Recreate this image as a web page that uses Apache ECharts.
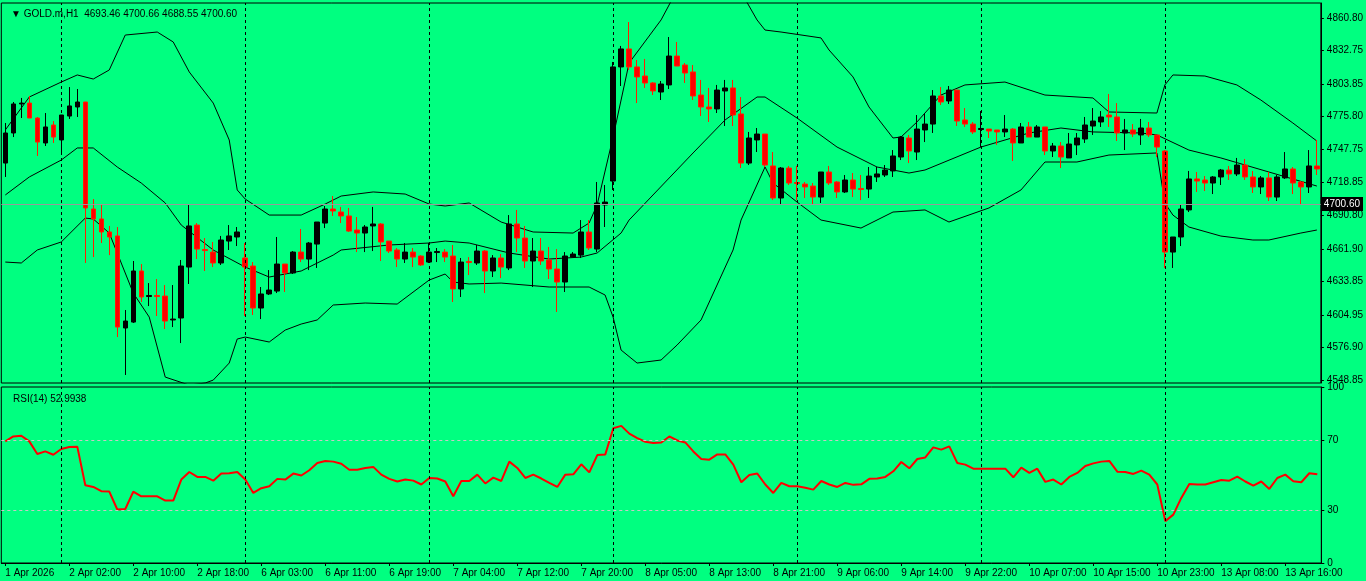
<!DOCTYPE html>
<html><head><meta charset="utf-8">
<script src="https://cdn.jsdelivr.net/npm/echarts@6/dist/echarts.min.js"></script>
<style>html,body{margin:0;padding:0;background:#00ff80;}#c{width:1366px;height:581px;}</style>
</head><body><div id="c"></div>
<script>
// ---- data ----
const sessionDays = [[1,17,23],[2,1,23],[6,1,23],[7,1,23],[8,1,23],[9,1,23],[10,1,23],[13,1,20]];
const open = [4735.8,4761.7,4786.7,4787.5,4774.6,4753.1,4768.6,4755.7,4776.3,4784.1,4788.4,4696.2,4687.6,4676.4,4673.0,4593.7,4598.8,4642.8,4620.8,4621.7,4621.2,4600.6,4602.3,4646.2,4682.4,4661.3,4659.1,4649.7,4668.6,4672.1,4654.0,4647.1,4610.9,4623.0,4625.5,4648.8,4641.1,4659.1,4653.1,4666.0,4684.1,4696.2,4693.6,4690.2,4678.1,4675.5,4681.6,4683.3,4668.6,4660.9,4653.1,4659.1,4655.7,4650.5,4658.7,4659.1,4655.7,4627.3,4651.0,4649.7,4660.0,4642.8,4654.0,4645.4,4683.3,4671.2,4651.4,4660.0,4652.3,4644.5,4633.3,4654.8,4656.5,4676.4,4661.7,4699.7,4720.3,4818.6,4834.1,4818.6,4810.8,4804.8,4797.0,4803.1,4828.0,4820.3,4814.3,4794.4,4784.1,4782.4,4797.9,4800.5,4778.1,4735.8,4755.7,4760.8,4733.3,4705.7,4731.5,4719.0,4717.7,4716.0,4706.5,4728.1,4719.5,4710.9,4721.2,4713.9,4713.4,4723.8,4725.5,4729.0,4741.0,4757.4,4745.3,4764.3,4769.4,4793.6,4789.3,4798.7,4772.9,4769.4,4764.7,4765.1,4764.3,4762.6,4765.1,4753.1,4766.9,4758.2,4766.9,4746.2,4750.5,4740.2,4751.4,4756.5,4767.7,4771.2,4777.2,4775.5,4761.7,4764.3,4760.0,4766.0,4760.0,4746.2,4659.1,4672.1,4695.4,4722.1,4721.2,4718.6,4723.8,4729.8,4726.4,4734.1,4723.8,4715.2,4723.0,4706.5,4723.0,4730.7,4719.5,4715.2,4733.3];
const close = [4761.7,4786.7,4787.5,4774.6,4753.9,4766.9,4758.2,4777.2,4785.0,4788.4,4697.1,4687.6,4676.4,4672.1,4594.5,4599.7,4642.8,4620.4,4621.7,4620.8,4599.7,4601.4,4647.1,4681.6,4661.7,4660.4,4649.7,4669.5,4673.0,4676.4,4646.2,4610.9,4623.0,4626.4,4648.8,4641.1,4659.1,4653.1,4666.9,4685.0,4696.2,4694.5,4690.2,4677.2,4675.5,4680.7,4683.3,4667.8,4660.0,4653.1,4659.1,4654.8,4648.0,4659.1,4659.6,4654.8,4627.3,4650.5,4650.1,4660.0,4642.8,4654.0,4646.2,4683.3,4671.2,4651.4,4660.0,4651.4,4644.5,4633.3,4655.7,4657.4,4676.4,4662.6,4701.4,4702.2,4818.6,4834.1,4818.6,4810.0,4804.8,4797.9,4803.9,4828.0,4819.4,4813.4,4793.6,4784.1,4782.4,4798.7,4800.5,4777.2,4735.8,4757.4,4760.8,4734.1,4705.7,4731.5,4718.6,4718.2,4715.2,4706.5,4728.1,4718.6,4710.9,4721.2,4713.4,4713.0,4724.6,4726.4,4729.8,4741.9,4758.2,4746.2,4765.1,4769.4,4793.6,4788.4,4798.7,4772.0,4769.4,4762.6,4765.6,4763.4,4762.6,4765.1,4753.1,4766.9,4758.2,4766.9,4746.2,4750.5,4741.0,4752.2,4757.4,4768.6,4772.0,4775.5,4775.5,4761.7,4764.3,4760.8,4766.0,4760.0,4749.6,4659.1,4672.1,4696.2,4722.1,4720.3,4718.6,4723.8,4729.8,4726.4,4734.1,4723.8,4715.2,4723.0,4706.5,4723.8,4730.7,4718.6,4715.2,4733.3,4730.7];
const high = [4770.3,4788.4,4791.9,4793.6,4775.5,4778.9,4772.0,4777.2,4801.3,4799.6,4788.4,4704.8,4699.7,4681.6,4680.7,4609.2,4651.4,4648.8,4632.4,4635.9,4630.7,4630.7,4652.3,4700.5,4684.1,4671.2,4667.8,4673.0,4682.4,4680.7,4666.9,4650.5,4629.0,4643.6,4672.1,4648.8,4660.0,4679.0,4667.8,4685.0,4698.8,4707.4,4698.0,4697.1,4689.3,4682.4,4698.0,4684.1,4668.6,4662.6,4666.9,4662.6,4656.5,4666.9,4662.6,4661.7,4665.2,4654.0,4654.8,4665.2,4660.9,4656.5,4657.4,4691.0,4695.4,4681.6,4671.2,4671.2,4663.5,4661.7,4659.1,4659.1,4686.7,4686.7,4719.5,4716.9,4822.9,4836.7,4857.3,4824.6,4825.5,4805.6,4806.5,4844.4,4840.1,4822.0,4820.3,4807.4,4800.5,4803.1,4807.4,4807.4,4792.7,4762.6,4766.0,4760.8,4745.3,4732.4,4733.3,4733.3,4719.5,4718.6,4728.1,4733.3,4720.3,4725.5,4727.2,4725.5,4732.4,4732.4,4734.1,4747.0,4759.1,4760.0,4777.2,4778.1,4798.7,4801.3,4802.2,4798.7,4783.2,4771.2,4780.6,4765.1,4764.3,4777.2,4766.0,4770.3,4771.2,4768.6,4766.9,4753.1,4753.9,4761.7,4761.7,4775.5,4783.2,4780.6,4795.3,4787.5,4773.8,4769.4,4773.8,4771.2,4760.0,4747.0,4672.1,4699.7,4729.0,4728.1,4724.6,4724.6,4730.7,4733.3,4740.2,4739.3,4729.0,4724.6,4728.1,4725.5,4745.3,4732.4,4720.3,4747.0,4755.7];
const low = [4723.8,4758.2,4774.6,4774.6,4741.9,4750.5,4753.1,4742.7,4773.8,4775.5,4649.7,4654.8,4666.9,4656.5,4585.9,4553.2,4598.0,4616.1,4612.6,4604.0,4592.8,4594.5,4580.7,4631.6,4653.1,4642.8,4646.2,4648.0,4660.9,4664.3,4604.0,4604.9,4601.4,4622.1,4623.8,4624.7,4640.2,4650.5,4643.6,4645.4,4679.8,4690.2,4684.1,4676.4,4659.1,4659.1,4660.0,4651.4,4658.3,4646.2,4649.7,4646.2,4647.1,4649.7,4650.5,4650.5,4616.1,4620.4,4639.3,4648.0,4623.8,4637.6,4636.7,4643.6,4659.1,4645.4,4629.0,4648.0,4635.9,4607.5,4624.7,4654.8,4654.0,4660.9,4659.1,4680.7,4712.6,4802.2,4816.0,4787.5,4800.5,4794.4,4790.1,4799.6,4819.4,4804.8,4790.1,4776.3,4771.2,4778.9,4767.7,4767.7,4731.5,4734.1,4745.3,4732.4,4703.9,4700.5,4716.9,4703.9,4705.7,4699.7,4701.4,4716.9,4705.7,4710.0,4706.5,4703.9,4705.7,4719.5,4723.8,4723.8,4738.4,4735.8,4738.4,4753.9,4761.7,4785.8,4786.7,4767.7,4766.9,4760.8,4749.6,4757.4,4751.4,4758.2,4737.6,4753.1,4758.2,4758.2,4742.7,4741.0,4731.5,4740.2,4742.7,4753.1,4760.0,4766.9,4766.9,4754.8,4747.0,4758.2,4751.4,4758.2,4741.0,4645.4,4645.4,4664.3,4693.6,4710.9,4711.7,4709.1,4716.9,4721.2,4724.6,4721.2,4710.0,4709.1,4703.1,4703.1,4722.1,4709.1,4699.7,4710.0,4725.5];
const bandUpper = [[0,4764.3],[3,4792.7],[7,4805.6],[9,4811.7],[11,4808.2],[13,4816.0],[15,4846.1],[19,4848.7],[21,4840.1],[23,4814.3],[26,4787.5],[28,4755.7],[29,4712.6],[30,4704.8],[33,4691.0],[37,4691.0],[40,4700.5],[42,4707.4],[46,4710.9],[50,4709.1],[53,4700.5],[55,4698.8],[58,4701.4],[62,4685.0],[66,4676.4],[71,4675.5],[73,4684.1],[74,4699.7],[76,4758.2],[78,4822.0],[82,4859.1],[84,4884.9],[88,4897.8],[92,4883.2],[94,4859.1],[95,4850.4],[97,4848.7],[102,4843.6],[103,4833.2],[106,4810.0],[108,4784.1],[111,4757.4],[112,4758.2],[114,4771.2],[117,4794.4],[120,4803.1],[125,4805.6],[130,4794.4],[136,4791.9],[138,4779.8],[144,4778.9],[145,4803.1],[146,4811.7],[150,4810.8],[154,4803.1],[157,4790.1],[161,4770.3],[164,4754.8]];
const bandMiddle = [[0,4708.3],[3,4723.8],[7,4738.4],[9,4748.8],[11,4748.8],[14,4732.4],[17,4718.6],[20,4701.4],[22,4682.4],[26,4660.9],[30,4646.2],[33,4637.6],[37,4642.8],[41,4656.5],[42,4660.9],[48,4665.2],[53,4666.9],[55,4668.6],[58,4666.9],[63,4658.3],[68,4653.1],[72,4654.8],[74,4658.3],[77,4675.5],[78,4686.7],[86,4744.5],[90,4772.9],[94,4792.7],[95,4792.7],[99,4774.6],[104,4749.6],[109,4732.4],[113,4727.2],[115,4729.8],[122,4749.6],[128,4761.7],[132,4766.0],[136,4762.6],[142,4761.7],[144,4760.0],[148,4747.0],[152,4740.2],[158,4728.1],[164,4716.0]];
const bandLower = [[0,4650.5],[2,4649.7],[4,4660.9],[7,4667.8],[10,4688.4],[11,4687.6],[13,4675.5],[16,4623.8],[18,4603.1],[20,4551.4],[23,4544.5],[25,4546.3],[26,4548.8],[28,4563.5],[29,4584.2],[30,4585.9],[33,4581.6],[35,4591.9],[37,4597.1],[39,4600.6],[41,4613.5],[45,4615.2],[49,4614.3],[53,4635.0],[55,4640.2],[56,4633.3],[58,4631.6],[62,4632.4],[68,4629.0],[73,4629.0],[75,4622.1],[76,4603.1],[77,4574.7],[79,4563.5],[82,4566.1],[84,4579.0],[87,4600.6],[91,4660.9],[92,4686.7],[95,4732.4],[96,4718.6],[99,4702.2],[102,4686.7],[107,4679.8],[111,4693.6],[115,4695.4],[118,4685.0],[123,4697.1],[127,4712.6],[130,4736.7],[134,4736.7],[138,4742.7],[144,4744.5],[145,4701.4],[146,4691.0],[148,4680.7],[152,4672.9],[156,4669.5],[158,4669.5],[162,4675.5],[164,4678.1]];
const rsi = [69.1,71.9,72.3,69.1,61.9,63.4,61.5,64.8,65.9,66.1,44.2,43.2,40.8,40.6,30.4,30.7,40.6,37.9,37.9,37.9,35.5,35.5,47.4,51.7,48.9,48.9,46.8,50.8,51.0,51.7,47.4,39.8,42.5,43.6,47.8,47.4,50.8,49.7,52.7,56.8,58.0,57.6,56.4,53.0,53.0,54.0,54.6,50.2,47.8,46.3,47.4,46.8,44.6,48.3,48.0,46.3,37.9,46.6,46.6,50.2,45.2,48.5,46.6,57.6,54.0,48.3,50.2,48.0,45.5,43.2,50.2,50.4,56.1,51.5,61.3,61.7,76.6,77.9,73.5,71.0,68.9,68.2,68.5,71.9,69.6,68.5,63.4,59.1,58.7,61.7,61.7,55.9,45.9,50.0,50.8,44.6,39.8,45.5,43.6,43.6,42.8,41.7,46.6,44.6,43.2,45.5,44.4,44.7,47.8,48.0,48.9,52.1,57.4,53.8,59.1,60.0,65.7,64.4,66.3,56.8,55.9,53.6,53.6,53.6,53.6,53.6,48.7,54.2,51.2,53.6,46.1,47.4,44.6,48.9,51.2,55.1,56.6,57.6,58.0,51.9,51.7,50.6,52.5,50.2,44.6,23.8,27.5,37.0,44.9,44.6,44.6,45.9,47.2,46.8,49.1,46.3,44.0,46.3,42.1,48.3,50.2,46.5,45.9,51.0,50.4];
const priceTicks = [4548.85,4576.90,4604.95,4633.85,4661.90,4690.80,4718.85,4747.75,4775.80,4803.85,4832.75,4860.80];
const rsiTicks = [0,30,70,100];
const rsiLevels = [30,70];
const dayStarts = [7,30,53,76,99,122,145];
const lastPrice = 4700.60;
const headerText = '▼ GOLD.m,H1  4693.46 4700.66 4688.55 4700.60';
const rsiText = 'RSI(14) 52.9938';

// ---- build ----
const categories = [];
sessionDays.forEach(([d, h0, h1]) => {
  for (let h = h0; h <= h1; h++) categories.push(categories.length === 0 ? d + ' Apr 2026' : d + ' Apr ' + String(h).padStart(2,'0') + ':00');
});
const candles = open.map((o, i) => [o, close[i], low[i], high[i]]);
const font = 'Liberation Sans';
const dayLines = { silent: true, symbol: 'none', label: {show: false},
  lineStyle: {color: '#000', type: [3,3], width: 1}, data: dayStarts.map(v => ({xAxis: v})) };
const every8 = (i) => i % 8 === 0;

const chart = echarts.init(document.getElementById('c'));
chart.setOption({
  backgroundColor: '#00ff80',
  animation: false,
  textStyle: {fontFamily: font},
  title: [
    {text: headerText, left: 6, top: 4, textStyle: {fontSize: 10, fontWeight: 'normal', color: '#000', fontFamily: font}},
    {text: rsiText, left: 8, top: 389, textStyle: {fontSize: 10, fontWeight: 'normal', color: '#000', fontFamily: font}}
  ],
  grid: [
    {left: 1.3, width: 1320, top: 3, height: 380, show: true, borderColor: '#000', borderWidth: 1},
    {left: 1.3, width: 1320, top: 387, height: 176, show: true, borderColor: '#000', borderWidth: 1}
  ],
  xAxis: [
    {type: 'category', gridIndex: 0, data: categories, boundaryGap: true,
     axisLine: {show: false}, axisTick: {show: false}, axisLabel: {show: false}, splitLine: {show: false}},
    {type: 'category', gridIndex: 1, data: categories, boundaryGap: true,
     axisLine: {show: true, lineStyle: {color: '#000'}}, axisTick: {show: true, interval: every8, length: 3, alignWithLabel: true, lineStyle: {color: '#000'}},
     axisLabel: {interval: every8, align: 'left', color: '#000', fontSize: 10, margin: 5, fontFamily: font, hideOverlap: false}, splitLine: {show: false}}
  ],
  yAxis: [
    {type: 'value', gridIndex: 0, position: 'right', min: 4546.3, max: 4873.7, scale: true,
     axisLine: {show: true, lineStyle: {color: '#000'}}, axisTick: {show: true, length: 3, customValues: priceTicks, lineStyle: {color: '#000'}},
     axisLabel: {customValues: priceTicks, color: '#000', fontSize: 10, margin: 6, fontFamily: font, formatter: v => v.toFixed(2)},
     splitLine: {show: false}},
    {type: 'value', gridIndex: 1, position: 'right', min: 0, max: 100,
     axisLine: {show: true, lineStyle: {color: '#000'}}, axisTick: {show: true, length: 3, customValues: rsiTicks, lineStyle: {color: '#000'}},
     axisLabel: {customValues: rsiTicks, color: '#000', fontSize: 10, margin: 6, fontFamily: font},
     splitLine: {show: false}}
  ],
  series: [
    {type: 'line', xAxisIndex: 0, yAxisIndex: 0, data: bandUpper, symbol: 'none', lineStyle: {color: '#000', width: 1}, silent: true, markLine: dayLines, z: 1},
    {type: 'line', xAxisIndex: 0, yAxisIndex: 0, data: bandMiddle, symbol: 'none', lineStyle: {color: '#000', width: 1}, silent: true, z: 1},
    {type: 'line', xAxisIndex: 0, yAxisIndex: 0, data: bandLower, symbol: 'none', lineStyle: {color: '#000', width: 1}, silent: true, z: 1},
    {type: 'candlestick', xAxisIndex: 0, yAxisIndex: 0, data: candles, barWidth: 5, z: 3,
     itemStyle: {color: '#000', color0: '#ff0000', borderColor: '#000', borderColor0: '#ff2000', borderWidth: 1},
     markLine: {silent: true, symbol: 'none', data: [{yAxis: lastPrice}],
       lineStyle: {color: '#9a9a9a', type: 'solid', width: 1},
       label: {show: true, position: 'end', formatter: lastPrice.toFixed(2), color: '#fff', backgroundColor: '#000', padding: [2,3], fontSize: 10, fontFamily: font, distance: 0}}},
    {type: 'line', xAxisIndex: 1, yAxisIndex: 1, data: rsi, symbol: 'none', lineStyle: {color: '#ff0000', width: 2}, silent: true,
     markLine: {silent: true, symbol: 'none', label: {show: false},
       data: rsiLevels.map(v => ({yAxis: v, lineStyle: {color: '#c8c8c8', type: [3,3], width: 1}})).concat(dayStarts.map(v => ({xAxis: v, lineStyle: {color: '#000', type: [3,3], width: 1}})))}}
  ]
});
</script></body></html>
